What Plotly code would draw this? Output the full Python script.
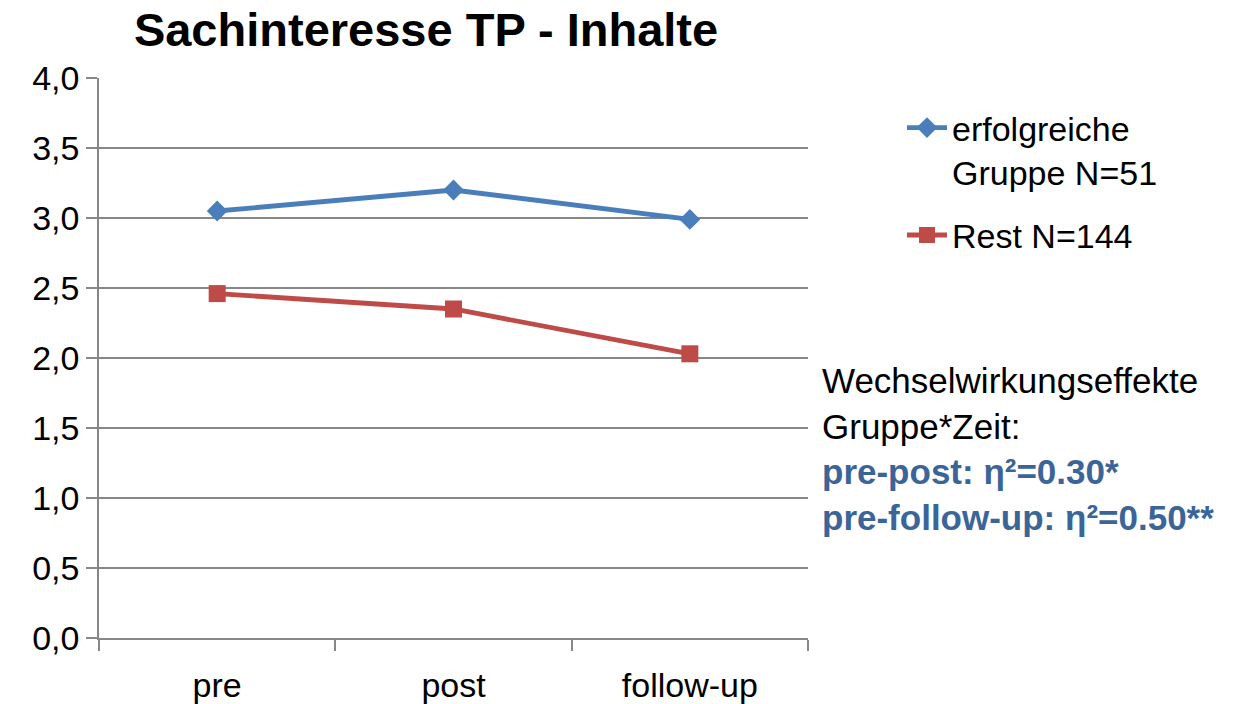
import plotly.graph_objects as go

# Messzeitpunkte und Mittelwerte Sachinteresse (Inhalte)
zeitpunkte = ["pre", "post", "follow-up"]
erfolgreiche = [3.05, 3.20, 2.99]
rest = [2.46, 2.35, 2.03]
y_ticks = [0.0, 0.5, 1.0, 1.5, 2.0, 2.5, 3.0, 3.5, 4.0]
y_tick_labels = ["0,0", "0,5", "1,0", "1,5", "2,0", "2,5", "3,0", "3,5", "4,0"]

FONT = "Liberation Sans, Arial, sans-serif"
BLUE = "#4A7EBB"
RED = "#BE4B48"
GRID = "#878787"

W, H = 1242, 704
PL, PR, PT, PB = 99, 808, 78, 638  # Plotbereich in Pixeln


def px_x(x):
    return (x - PL) / (PR - PL)


def px_y(y):
    return (PB - y) / (PB - PT)


fig = go.Figure()
fig.add_trace(go.Scatter(
    x=zeitpunkte, y=erfolgreiche, mode="lines+markers",
    name="erfolgreiche<br>Gruppe N=51", legendgroup="erfolgreiche",
    line=dict(color=BLUE, width=4.8),
    marker=dict(symbol="diamond", size=16, color=BLUE),
))
fig.add_trace(go.Scatter(
    x=zeitpunkte, y=rest, mode="lines+markers",
    name="Rest N=144", legendgroup="rest",
    line=dict(color=RED, width=4.8),
    marker=dict(symbol="square", size=17, color=RED),
))

fig.update_layout(
    width=W, height=H,
    margin=dict(l=PL, r=W - PR, t=PT, b=H - PB),
    paper_bgcolor="white", plot_bgcolor="white",
    font=dict(family=FONT, size=34, color="black"),
    title=dict(
        text="<b>Sachinteresse TP - Inhalte</b>",
        x=426 / W, xanchor="center", xref="container",
        y=1 - 30 / H, yanchor="middle", yref="container",
        font=dict(family=FONT, size=47, color="black"),
    ),
    showlegend=True,
    legend=dict(
        x=px_x(902), xref="paper", xanchor="left",
        y=px_y(99), yref="paper", yanchor="top",
        font=dict(family=FONT, size=34, color="black"),
        tracegroupgap=16, itemwidth=40, valign="top",
        bgcolor="rgba(0,0,0,0)",
    ),
)

fig.update_xaxes(
    type="category", range=[-0.5, 2.5], automargin=False,
    showline=True, linecolor=GRID, linewidth=1.5,
    ticks="outside", tickson="boundaries", ticklen=11,
    tickcolor=GRID, tickwidth=1.5,
    showgrid=False, zeroline=False, ticklabelstandoff=16,
    tickfont=dict(family=FONT, size=34, color="black"),
)
fig.update_yaxes(
    range=[0, 4], tickvals=y_ticks, ticktext=y_tick_labels, automargin=False,
    showline=True, linecolor=GRID, linewidth=1.5,
    ticks="outside", ticklen=11, tickcolor=GRID, tickwidth=1.5,
    showgrid=True, gridcolor=GRID, gridwidth=1.5,
    zeroline=False,
    tickfont=dict(family=FONT, size=34, color="black"),
)

# Hinweis auf Wechselwirkungseffekte rechts neben dem Diagramm
fig.add_annotation(
    xref="paper", yref="paper",
    x=px_x(820), y=px_y(359),
    xanchor="left", yanchor="top", align="left",
    showarrow=False,
    font=dict(family=FONT, size=35, color="black"),
    text=("Wechselwirkungseffekte<br>Gruppe*Zeit:<br>"
          "<b><span style='color:#3B6598'>pre-post: η²=0.30*</span></b><br>"
          "<b><span style='color:#3B6598'>pre-follow-up: η²=0.50**</span></b>"),
)

fig.write_html("out.html")
